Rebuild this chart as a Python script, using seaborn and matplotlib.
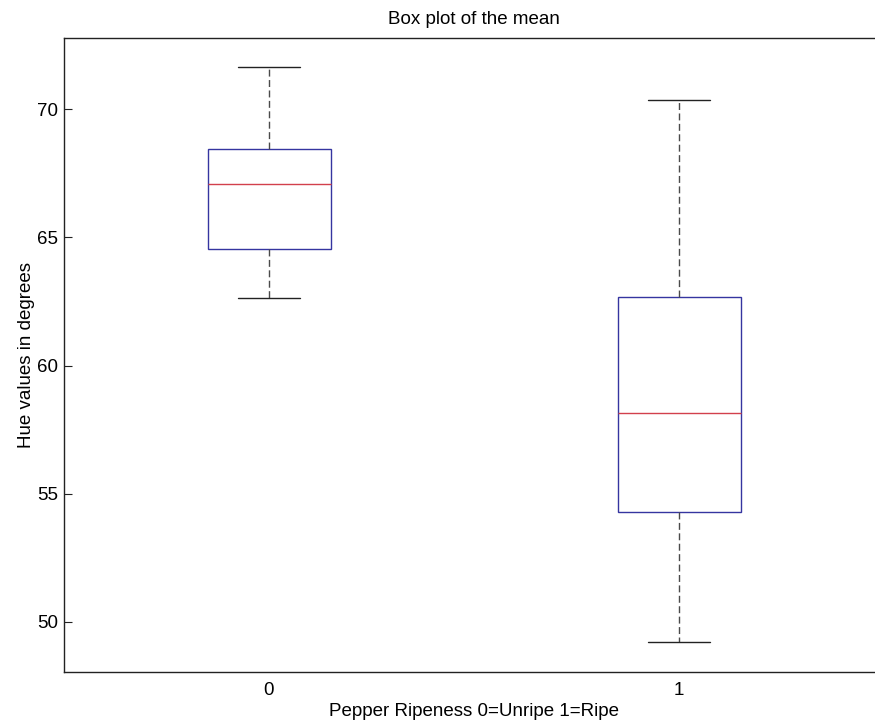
#!/usr/bin/env python3
"""Box plot of mean hue for unripe / ripe peppers"""

## imports ##
import pandas as pd
import seaborn as sns
import matplotlib.pyplot as plt

## data ##
# five-number summaries (min, q1, median, q3, max)
groups = ["0", "1"]
unripe_hue = [62.63, 64.54, 67.06, 68.44, 71.64]
ripe_hue = [49.22, 54.29, 58.16, 62.69, 70.36]
y_ticks = [50, 55, 60, 65, 70]

data = pd.DataFrame({
    "Ripeness": [groups[0]] * len(unripe_hue) + [groups[1]] * len(ripe_hue),
    "Hue": unripe_hue + ripe_hue,
})

## style ##
sns.set_style("white")
plt.rcParams["font.family"] = ["Liberation Sans", "DejaVu Sans"]
plt.rcParams["font.size"] = 13.5
plt.rcParams["text.color"] = "black"
plt.rcParams["axes.labelcolor"] = "black"

fig = plt.figure(figsize=(8.75, 7.22), dpi=100)
ax = fig.add_axes([64 / 875, 50 / 722, 820 / 875, 634 / 722])

blue = "#3535a0"
sns.boxplot(data=data, x="Ripeness", y="Hue", order=groups, ax=ax,
            whis=(0, 100), width=0.3, color="white", linewidth=1.0,
            boxprops=dict(facecolor="white", edgecolor=blue, linewidth=1.0),
            medianprops=dict(color="#d2404c", linewidth=1.0),
            whiskerprops=dict(color="#4a4a4a", linewidth=1.0,
                              linestyle=(0, (5, 2.5))),
            capprops=dict(color="#222222", linewidth=1.0))

ax.set_xlim(-0.5, 1.5)
ax.set_ylim(48.05, 72.77)
ax.set_yticks(y_ticks)

ax.set_title("Box plot of the mean", fontsize=13.5, pad=10)
ax.set_xlabel("Pepper Ripeness 0=Unripe 1=Ripe", fontsize=13.5, labelpad=3)
ax.set_ylabel("Hue values in degrees", fontsize=13.5, labelpad=2)

ax.tick_params(axis="y", direction="in", length=6, width=0.8,
               left=True, right=True, pad=4, labelsize=13.5,
               color="#222222", labelcolor="black")
ax.tick_params(axis="x", length=0, pad=7, labelsize=13.5, labelcolor="black")
for side in ax.spines.values():
    side.set_visible(True)
    side.set_color("#222222")
    side.set_linewidth(1.0)

fig.savefig("out.png", dpi=100)
